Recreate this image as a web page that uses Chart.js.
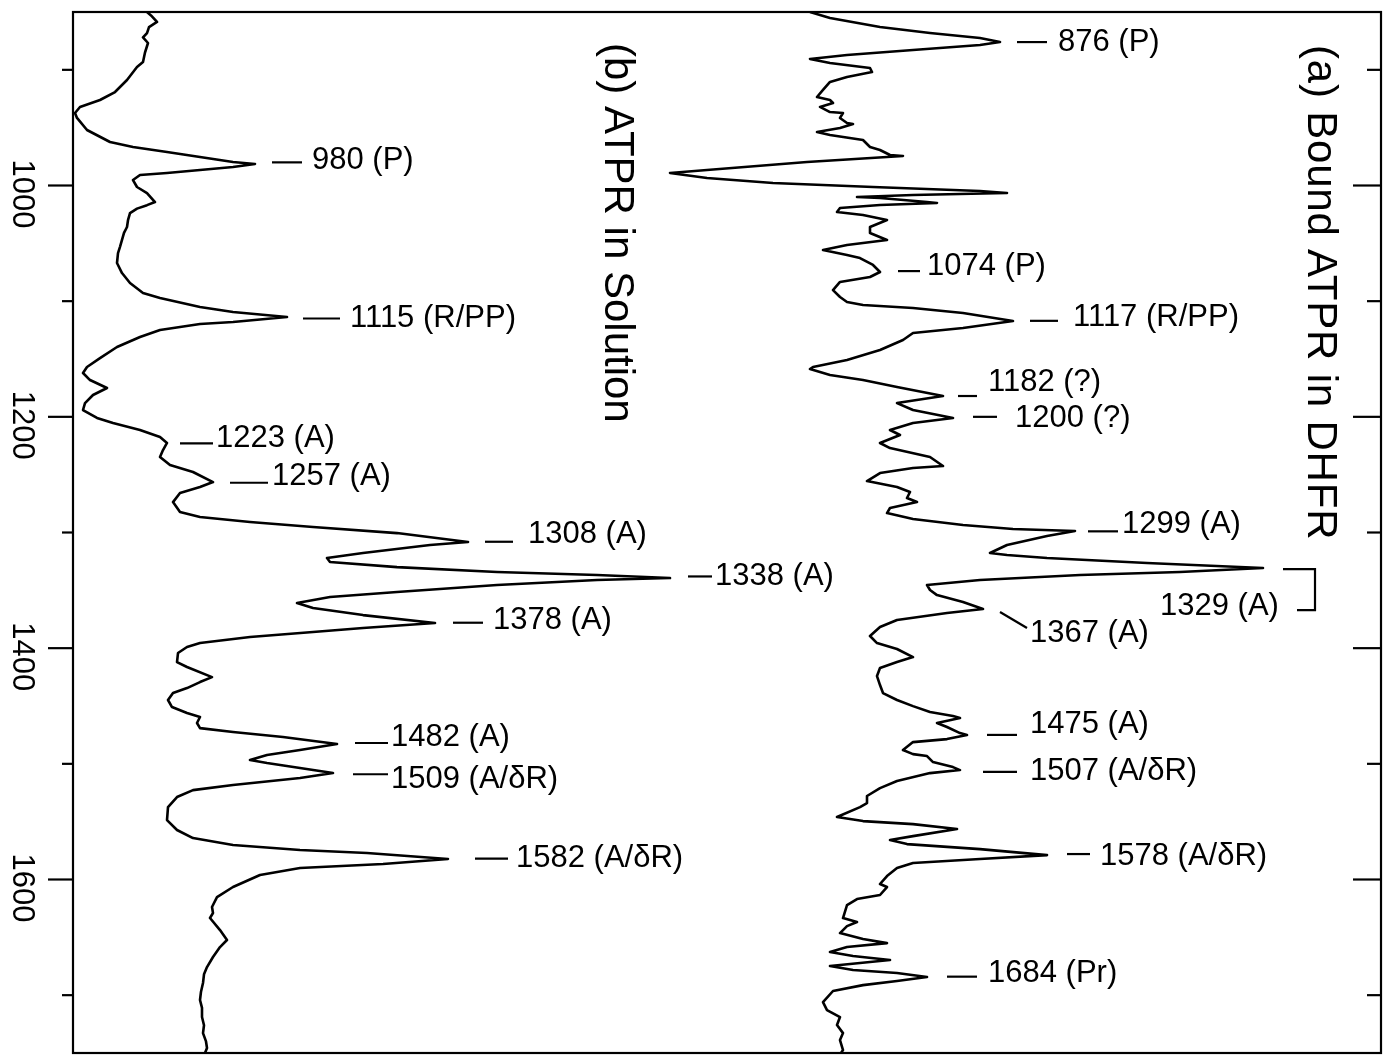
<!DOCTYPE html>
<html>
<head>
<meta charset="utf-8">
<script src="https://cdn.jsdelivr.net/npm/chart.js"></script>
<style>
  html, body { margin: 0; padding: 0; background: #fff; }
  canvas { display: block; }
</style>
</head>
<body>
<canvas id="spectra" width="1389" height="1060"></canvas>
<script>
// wavenumber axis (cm-1), drawn top to bottom
const waveMin = 850;
const waveMax = 1750;
const waveTicks = [900, 1000, 1100, 1200, 1300, 1400, 1500, 1600, 1700];
const waveLabels = [1000, 1200, 1400, 1600];

// relative intensity, arbitrary units
const intensityMin = 0;
const intensityMax = 1308;

// (b) ATPR in solution: [wavenumber, intensity]
const solutionSpectrum = [
  [850, 74], [853, 78], [858.6, 84], [863, 76], [868.2, 74], [872, 70], [876.8, 75], [885, 72],
  [893.2, 70], [897.6, 64], [908.8, 54], [919.2, 42], [926.1, 27], [932.1, 7], [937.3, 2], [941.6, 4],
  [952, 14], [962.4, 37], [966.7, 60], [971, 94], [975.4, 127], [979.7, 160], [981.4, 182], [984, 160],
  [986.6, 127], [989.2, 94], [990.9, 67], [995.3, 60], [1001.3, 64], [1006.5, 74], [1014.3, 82], [1017, 74],
  [1020, 64], [1023.8, 57], [1030, 55], [1035.9, 54], [1041, 51], [1047.1, 49], [1053, 47], [1058.4, 45],
  [1067, 44], [1075.7, 49], [1084.3, 57], [1093, 70], [1097.3, 87], [1105.1, 127], [1109.4, 160], [1113.7, 214],
  [1118, 160], [1119.8, 127], [1124.9, 87], [1131, 67], [1139.6, 44], [1149.2, 27], [1156.9, 14], [1162.1, 10],
  [1168.2, 17], [1175.1, 34], [1181.1, 20], [1188.1, 12], [1194.1, 10], [1201, 24], [1205.4, 40], [1211.4, 67],
  [1217.5, 87], [1222.6, 94], [1228.7, 90], [1234.7, 87], [1241.7, 97], [1247.7, 120], [1256.4, 140], [1260.7, 127],
  [1265.9, 107], [1273.7, 100], [1282.3, 107], [1286.6, 127], [1290.9, 177], [1295.3, 240], [1300.5, 324], [1308.2, 395],
  [1310.8, 357], [1317.7, 290], [1322.1, 254], [1325.5, 257], [1329.9, 324], [1334.2, 424], [1336.8, 524], [1339.4, 597],
  [1341.1, 524], [1345.4, 424], [1351.5, 324], [1355.8, 257], [1361, 224], [1365.3, 240], [1371.4, 290], [1378.3, 362],
  [1382.6, 290], [1386, 240], [1390.4, 177], [1395.6, 127], [1399, 114], [1404.2, 105], [1412, 104], [1416.3, 114],
  [1425, 139], [1429.3, 127], [1434.5, 114], [1438.8, 100], [1444.8, 95], [1450.9, 99], [1456.1, 114], [1459.5, 127],
  [1464.7, 124], [1469.1, 127], [1472.5, 160], [1476.8, 210], [1482.9, 264], [1488.1, 227], [1492.4, 194], [1496.7, 177],
  [1499.3, 194], [1503.6, 227], [1508, 260], [1512.3, 227], [1518.3, 160], [1522.7, 120], [1528.7, 104], [1537.4, 95],
  [1548.6, 94], [1557.2, 104], [1564.2, 120], [1570.2, 160], [1574.5, 227], [1577.1, 294], [1582.3, 375], [1586.6, 310],
  [1590.1, 227], [1596.1, 187], [1606.5, 160], [1615.2, 144], [1623.8, 139], [1629, 140], [1633.3, 137], [1643.7, 147],
  [1652.3, 154], [1658.4, 147], [1667, 140], [1675.7, 134], [1682, 131], [1689.5, 130], [1697, 128], [1704.2, 127],
  [1711, 129], [1718.9, 129], [1726, 131], [1732.8, 130], [1740, 133], [1745.7, 134], [1750, 132]
];

// (a) bound ATPR in DHFR: [wavenumber, intensity]
const boundSpectrum = [
  [850, 737], [855.2, 757], [863, 807], [868.2, 857], [872.5, 907], [875.9, 927], [878.5, 907], [882.9, 840],
  [887.2, 774], [890.6, 737], [894.1, 757], [898.4, 797], [901.9, 799], [906.2, 774], [910.5, 757], [917.4, 750],
  [923.5, 744], [926.1, 757], [928.7, 760], [932.1, 747], [936.5, 757], [937.3, 770], [941.6, 767], [946, 774],
  [946.8, 780], [950.3, 767], [953.8, 744], [956.3, 757], [960.7, 790], [966.7, 797], [969.3, 807], [973.6, 817],
  [974.5, 830], [979.7, 734], [986.6, 634], [989.2, 597], [993.5, 634], [997.8, 700], [1001.3, 800], [1002.2, 827],
  [1004.8, 907], [1006.5, 934], [1008.2, 840], [1010, 784], [1010.8, 807], [1014.3, 854], [1015.1, 864], [1016.9, 807],
  [1019.5, 767], [1022.9, 764], [1025.5, 790], [1029.8, 814], [1035.9, 797], [1041.1, 797], [1047.1, 814], [1051.4, 774],
  [1055.8, 750], [1060.1, 774], [1062.7, 787], [1068.7, 800], [1074.8, 807], [1079.1, 797], [1083.4, 767], [1090.4, 760],
  [1096.4, 767], [1100.7, 774], [1103.3, 790], [1105.9, 840], [1110.2, 890], [1117.2, 940], [1123.2, 890], [1127.5, 840],
  [1133.6, 830], [1142.2, 807], [1150.9, 774], [1156.9, 740], [1158.7, 737], [1163.8, 757], [1168.2, 790], [1174.2, 824],
  [1182, 870], [1188.1, 824], [1194.1, 840], [1201, 880], [1205.4, 840], [1211.4, 817], [1215.7, 827], [1222.6, 807],
  [1227, 817], [1234.7, 857], [1242.5, 870], [1244.3, 840], [1248.6, 807], [1255.5, 794], [1260.7, 824], [1265, 837],
  [1270.2, 834], [1273.7, 844], [1278.8, 817], [1283.2, 814], [1288.3, 840], [1293.5, 890], [1297, 940], [1298.7, 1002],
  [1303, 974], [1310.8, 934], [1317.7, 917], [1319.5, 934], [1322.1, 974], [1326.4, 1074], [1330.7, 1190], [1334.2, 1107],
  [1336.8, 1007], [1341.1, 907], [1345.4, 854], [1349.7, 857], [1354.1, 864], [1360.1, 890], [1366.2, 910], [1369.6, 874],
  [1375.7, 824], [1381.7, 807], [1389.5, 797], [1395.6, 804], [1400.7, 824], [1407.7, 840], [1412, 824], [1417.2, 807],
  [1424.1, 804], [1431.9, 807], [1438.8, 810], [1444.8, 824], [1450.1, 840], [1455.2, 857], [1458.7, 880], [1460.4, 887],
  [1464.7, 864], [1468.2, 874], [1473.4, 887], [1475.1, 894], [1478.6, 874], [1481.2, 840], [1488.1, 830], [1491.6, 840],
  [1493.3, 854], [1498.5, 860], [1502.8, 880], [1505.4, 887], [1508, 857], [1514.9, 824], [1521, 807], [1527.8, 794],
  [1533.9, 794], [1537.4, 787], [1546, 764], [1549.5, 790], [1552.1, 840], [1556.4, 884], [1562.5, 840], [1565.9, 817],
  [1569.4, 834], [1573.7, 907], [1578.9, 974], [1582.3, 907], [1585.8, 840], [1590.1, 824], [1597, 814], [1603.9, 807],
  [1606.5, 814], [1613.4, 807], [1616.9, 784], [1622.1, 774], [1633.3, 770], [1636.8, 784], [1640.3, 774], [1646.3, 767],
  [1651.5, 790], [1655, 814], [1658.4, 774], [1662.7, 757], [1666.2, 780], [1669.6, 817], [1674.8, 757], [1678.3, 780],
  [1680.9, 824], [1684.3, 854], [1687.8, 824], [1691.3, 790], [1696.4, 760], [1706, 750], [1712.9, 754], [1718.9, 767],
  [1725.8, 764], [1732.8, 770], [1738.8, 767], [1747.5, 770], [1750, 768]
];

// peak assignments
const solutionPeaks = [980, 1115, 1223, 1257, 1308, 1338, 1378, 1482, 1509, 1582];
const solutionTags = ['P', 'R/PP', 'A', 'A', 'A', 'A', 'A', 'A', 'A/δR', 'A/δR'];
const boundPeaks = [876, 1074, 1117, 1182, 1200, 1299, 1329, 1367, 1475, 1507, 1578, 1684];
const boundTags = ['P', 'P', 'R/PP', '?', '?', 'A', 'A', 'A', 'A', 'A/δR', 'A/δR', 'Pr'];

const solutionTitle = '(b) ATPR in Solution';
const boundTitle = '(a) Bound ATPR in DHFR';

// where each leader dash starts (intensity units) and how the text sits next to it
const solutionLeaders = [
  { from: 199, len: 30, gap: 10, dy: -2 },
  { from: 230, len: 37, gap: 10, dy: 0 },
  { from: 107, len: 33, gap: 3, dy: -5 },
  { from: 157, len: 38, gap: 4, dy: -6 },
  { from: 412, len: 28, gap: 15, dy: -7 },
  { from: 615, len: 24, gap: 3, dy: 0 },
  { from: 380, len: 30, gap: 10, dy: -2 },
  { from: 282, len: 33, gap: 3, dy: -6 },
  { from: 280, len: 35, gap: 3, dy: 5 },
  { from: 402, len: 33, gap: 8, dy: 0 }
];
const boundLeaders = [
  { from: 944, len: 30, gap: 11, dy: 0 },
  { from: 825, len: 22, gap: 7, dy: -5 },
  { from: 957, len: 28, gap: 15, dy: -3 },
  { from: 885, len: 19, gap: 11, dy: -14 },
  { from: 900, len: 24, gap: 18, dy: 2 },
  { from: 1015, len: 30, gap: 4, dy: -7 },
  { kind: 'bracket', text: 1087, from: 1210, to: 1242, end: 1224, dy: 40 },
  { kind: 'slant', from: 927, dx: 27, dy: 23 },
  { from: 914, len: 30, gap: 13, dy: -10 },
  { from: 910, len: 34, gap: 13, dy: 0 },
  { from: 994, len: 23, gap: 10, dy: 2 },
  { from: 874, len: 30, gap: 11, dy: -3 }
];

const FONT = '"Liberation Sans", Arial, Helvetica, sans-serif';

const toPoints = (pairs) => pairs.map(([w, v]) => ({ x: v, y: w }));

const line = (ctx, x1, y1, x2, y2) => {
  ctx.beginPath();
  ctx.moveTo(x1, y1);
  ctx.lineTo(x2, y2);
  ctx.stroke();
};

const drawLabels = (ctx, xs, ys, peaks, tags, leaders) => {
  peaks.forEach((w, i) => {
    const lead = leaders[i];
    const ly = ys.getPixelForValue(w);
    const text = `${w} (${tags[i]})`;
    if (lead.kind === 'bracket') {
      const bx1 = xs.getPixelForValue(lead.from);
      const bx2 = xs.getPixelForValue(lead.to);
      const bx3 = xs.getPixelForValue(lead.end);
      ctx.beginPath();
      ctx.moveTo(bx1, ly + 3);
      ctx.lineTo(bx2, ly + 3);
      ctx.lineTo(bx2, ly + 44);
      ctx.lineTo(bx3, ly + 44);
      ctx.stroke();
      ctx.fillText(text, xs.getPixelForValue(lead.text), ly + lead.dy);
    } else if (lead.kind === 'slant') {
      const sx = xs.getPixelForValue(lead.from);
      line(ctx, sx, ly + 2, sx + lead.dx, ly + 18);
      ctx.fillText(text, sx + lead.dx + 3, ly + lead.dy);
    } else {
      const sx = xs.getPixelForValue(lead.from);
      line(ctx, sx, ly, sx + lead.len, ly);
      ctx.fillText(text, sx + lead.len + lead.gap, ly + lead.dy);
    }
  });
};

const frameAndNotes = {
  id: 'frameAndNotes',
  afterDatasetsDraw(chart) {
    const { ctx, chartArea: area, scales } = chart;
    const xs = scales.x;
    const ys = scales.y;
    ctx.save();
    ctx.strokeStyle = '#000';
    ctx.fillStyle = '#000';
    ctx.lineWidth = 2.2;
    ctx.strokeRect(area.left, area.top, area.right - area.left, area.bottom - area.top);

    // ticks: outward on the left, inward on the right
    waveTicks.forEach((w) => {
      const py = ys.getPixelForValue(w);
      const major = waveLabels.includes(w);
      line(ctx, area.left - (major ? 25 : 11), py, area.left, py);
      line(ctx, area.right - (major ? 28 : 14), py, area.right, py);
    });

    // rotated tick labels
    ctx.font = `31px ${FONT}`;
    ctx.textAlign = 'center';
    ctx.textBaseline = 'middle';
    waveLabels.forEach((w) => {
      ctx.save();
      ctx.translate(area.left - 51, ys.getPixelForValue(w) + 8.5);
      ctx.rotate(Math.PI / 2);
      ctx.fillText(String(w), 0, 0);
      ctx.restore();
    });

    // panel titles, rotated
    ctx.font = `42px ${FONT}`;
    ctx.textAlign = 'left';
    [[solutionTitle, 544, 43, '0px'], [boundTitle, 1247, 45, '0.8px']].forEach(([t, dx, top, sp]) => {
      ctx.save();
      ctx.letterSpacing = sp;
      ctx.translate(area.left + dx, top);
      ctx.rotate(Math.PI / 2);
      ctx.fillText(t, 0, 0);
      ctx.restore();
    });

    // peak assignments
    ctx.font = `31px ${FONT}`;
    ctx.textAlign = 'left';
    ctx.textBaseline = 'middle';
    ctx.lineWidth = 2.2;
    drawLabels(ctx, xs, ys, solutionPeaks, solutionTags, solutionLeaders);
    drawLabels(ctx, xs, ys, boundPeaks, boundTags, boundLeaders);
    ctx.restore();
  }
};

const lineStyle = {
  showLine: true,
  borderColor: '#000',
  borderWidth: 2.6,
  borderJoinStyle: 'round',
  pointRadius: 0,
  pointHoverRadius: 0,
  tension: 0,
  fill: false
};

new Chart(document.getElementById('spectra').getContext('2d'), {
  type: 'scatter',
  data: {
    datasets: [
      { label: solutionTitle, data: toPoints(solutionSpectrum), ...lineStyle },
      { label: boundTitle, data: toPoints(boundSpectrum), ...lineStyle }
    ]
  },
  options: {
    responsive: false,
    animation: false,
    events: [],
    layout: { padding: { left: 73, top: 12, right: 8, bottom: 7 } },
    scales: {
      x: { type: 'linear', min: intensityMin, max: intensityMax, display: false },
      y: { type: 'linear', min: waveMin, max: waveMax, reverse: true, display: false }
    },
    plugins: {
      legend: { display: false },
      tooltip: { enabled: false }
    }
  },
  plugins: [frameAndNotes]
});
</script>
</body>
</html>
